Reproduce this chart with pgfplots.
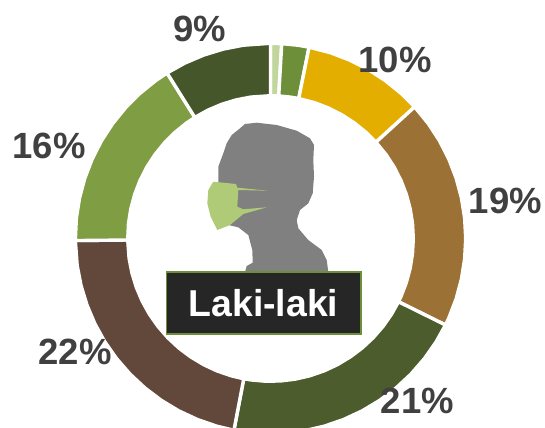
\documentclass[border=0pt]{standalone}
\usepackage{pgfplots}
\pgfplotsset{compat=1.18}
\usepgfplotslibrary{polar}
\usepackage{fontspec}
\setmainfont{Liberation Sans}
\definecolor{cLight}{HTML}{C0D69C}
\definecolor{cOlive}{HTML}{6E8F3A}
\definecolor{cGold}{HTML}{E3AE00}
\definecolor{cBrown}{HTML}{9C7135}
\definecolor{cGreen}{HTML}{4C5C2C}
\definecolor{cDarkBrown}{HTML}{61483B}
\definecolor{cMid}{HTML}{7F9D42}
\definecolor{cDark}{HTML}{45562A}
\definecolor{cText}{HTML}{404040}
\definecolor{cMask}{HTML}{AFCB78}
\definecolor{cHead}{HTML}{808080}
\definecolor{cBox}{HTML}{262626}
\begin{document}
\begin{tikzpicture}[x=1bp,y=1bp]
\useasboundingbox (0,0) rectangle (545,427);
\clip (0,0) rectangle (545,427);
\begin{polaraxis}[
  at={(270.5,188.5)},anchor=center,
  scale only axis,width=400bp,height=400bp,
  xmin=0,xmax=360,ymin=0,ymax=200,
  hide axis,clip=false,
  every axis plot/.append style={draw=white,line width=3.4bp,line join=miter}]
\addplot[fill=cLight] coordinates {(90,195.2)(86.7,195.2)(86.7,142.8)(90,142.8)} -- cycle;
\addplot[fill=cOlive] coordinates {(86.7,195.2)(82,195.2)(78.6,195.2)(78.6,142.8)(82,142.8)(86.7,142.8)} -- cycle;
\addplot[fill=cGold] coordinates {(78.6,195.2)(72,195.2)(66,195.2)(60,195.2)(54,195.2)(48,195.2)(42.4,195.2)
 (42.4,142.8)(48,142.8)(54,142.8)(60,142.8)(66,142.8)(72,142.8)(78.6,142.8)} -- cycle;
\addplot[fill=cBrown] coordinates {(42.4,195.2)(36,195.2)(30,195.2)(24,195.2)(18,195.2)(12,195.2)(6,195.2)(0,195.2)(-6,195.2)(-12,195.2)(-18,195.2)(-24,195.2)(-26.3,195.2)
 (-26.3,142.8)(-24,142.8)(-18,142.8)(-12,142.8)(-6,142.8)(0,142.8)(6,142.8)(12,142.8)(18,142.8)(24,142.8)(30,142.8)(36,142.8)(42.4,142.8)} -- cycle;
\addplot[fill=cGreen] coordinates {(-26.3,195.2)(-32,195.2)(-38,195.2)(-44,195.2)(-50,195.2)(-56,195.2)(-62,195.2)(-68,195.2)(-74,195.2)(-80,195.2)(-86,195.2)(-92,195.2)(-98,195.2)(-100.8,195.2)
 (-100.8,142.8)(-98,142.8)(-92,142.8)(-86,142.8)(-80,142.8)(-74,142.8)(-68,142.8)(-62,142.8)(-56,142.8)(-50,142.8)(-44,142.8)(-38,142.8)(-32,142.8)(-26.3,142.8)} -- cycle;
\addplot[fill=cDarkBrown] coordinates {(-100.8,195.2)(-106,195.2)(-112,195.2)(-118,195.2)(-124,195.2)(-130,195.2)(-136,195.2)(-142,195.2)(-148,195.2)(-154,195.2)(-160,195.2)(-166,195.2)(-172,195.2)(-179.4,195.2)
 (-179.4,142.8)(-172,142.8)(-166,142.8)(-160,142.8)(-154,142.8)(-148,142.8)(-142,142.8)(-136,142.8)(-130,142.8)(-124,142.8)(-118,142.8)(-112,142.8)(-106,142.8)(-100.8,142.8)} -- cycle;
\addplot[fill=cMid] coordinates {(-179.4,195.2)(-186,195.2)(-192,195.2)(-198,195.2)(-204,195.2)(-210,195.2)(-216,195.2)(-222,195.2)(-228,195.2)(-234,195.2)(-238,195.2)
 (-238,142.8)(-234,142.8)(-228,142.8)(-222,142.8)(-216,142.8)(-210,142.8)(-204,142.8)(-198,142.8)(-192,142.8)(-186,142.8)(-179.4,142.8)} -- cycle;
\addplot[fill=cDark] coordinates {(-238,195.2)(-244,195.2)(-250,195.2)(-256,195.2)(-262,195.2)(-270,195.2)
 (-270,142.8)(-262,142.8)(-256,142.8)(-250,142.8)(-244,142.8)(-238,142.8)} -- cycle;
\end{polaraxis}
\begin{axis}[
  at={(0,0)},anchor=south west,
  scale only axis,width=545bp,height=427bp,
  xmin=0,xmax=545,ymin=0,ymax=427,y dir=reverse,
  hide axis,clip=false]
\addplot[fill=cHead,draw=none] coordinates {
 (226.7,143.3)(231.7,135)(240,128.3)(245,124)(256.7,122.7)(276.7,125)(296.7,130.7)(310,138.3)(314,145)(313.3,160)(314,176.7)(312.7,193.3)(308.3,203.3)(300,210)(296.7,220)(298.3,228.3)(308.3,240)(321.7,250)(326.7,260)(328.3,272)(245,272)(246.7,266)(252.7,262.7)(252.3,250)(248.3,235)(238.3,227.3)(228.3,225)(218.3,193.3)(218.3,166.7)(223.3,153.3)} -- cycle;
\addplot[fill=cMask,draw=none] coordinates {
 (213.3,181.7)(236,184)(237.3,187.7)(268.3,190.7)(238.3,190)(237.3,206.7)(243.3,209.3)(266.7,207.3)(243.3,214)(230,225)(217.3,230)(210.7,216.7)(207.3,203.3)(208.3,190)} -- cycle;
\draw[draw=cOlive,line width=1.5bp,fill=cBox] (axis cs:166.5,272.2) rectangle (axis cs:361,334);
\node[text=white,font=\fontsize{37.4bp}{40bp}\selectfont\bfseries] at (axis cs:263.5,303) {Laki-laki};
\begin{scope}[every node/.style={text=cText,font=\fontsize{36.5bp}{38bp}\selectfont\bfseries}]
\node at (axis cs:200,29) {9\%};
\node at (axis cs:395,60) {10\%};
\node at (axis cs:505.5,201) {19\%};
\node at (axis cs:417.5,401) {21\%};
\node at (axis cs:75,352) {22\%};
\node at (axis cs:49,146) {16\%};
\end{scope}
\end{axis}
\end{tikzpicture}
\end{document}
